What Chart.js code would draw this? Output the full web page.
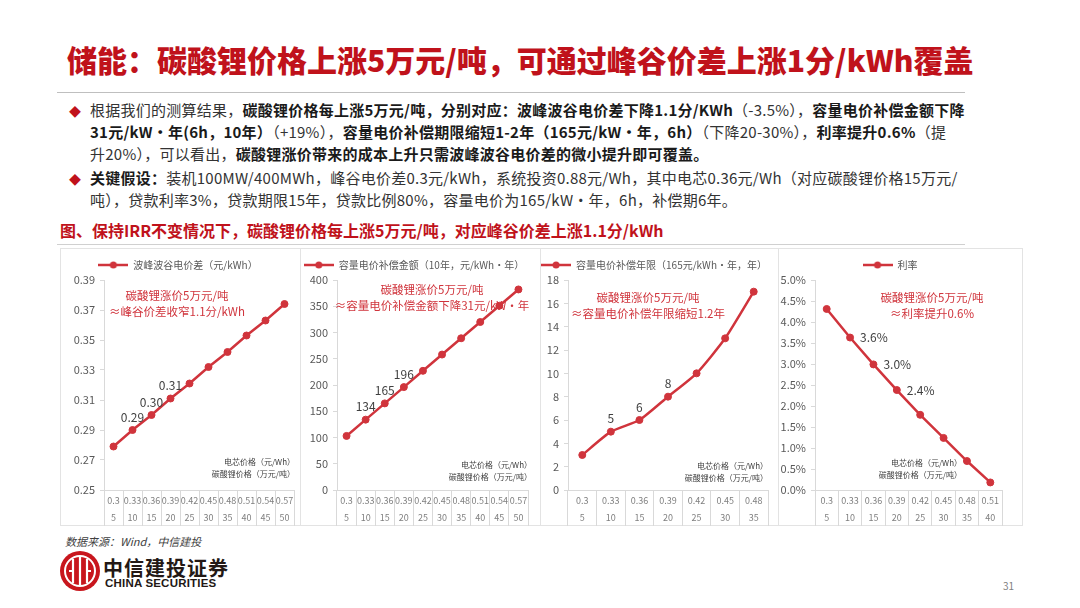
<!DOCTYPE html>
<html>
<head>
<meta charset="utf-8">
<script src="https://cdn.jsdelivr.net/npm/chart.js@4.4.1/dist/chart.umd.min.js"></script>
<style>
  html, body { margin: 0; padding: 0; background: #fff; }
  body { width: 1080px; height: 608px; position: relative; overflow: hidden;
         font-family: "Noto Sans CJK SC", "Noto Sans", sans-serif; color: #333; }
  .abs { position: absolute; white-space: nowrap; }
  .title { left: 67px; top: 37px; font-size: 30px; font-weight: 900; color: #c0121b; letter-spacing: 0; }
  .rule { position: absolute; height: 1px; background: #bfbfbf; }
  .line { left: 90px; font-size: 15px; line-height: 22px; letter-spacing: 0.25px; }
  .line b { font-weight: 700; color: #1a1a1a; }
  .dia { left: 69px; font-size: 12px; color: #c0121b; }
  .cap { left: 60px; top: 218px; font-size: 16px; font-weight: 700; color: #c0121b; }
  .panel { position: absolute; top: 248px; height: 278px; border: 1px solid #e3e3e3; box-sizing: border-box; }
  canvas { position: absolute; }
  .note { position: absolute; font-size: 11.5px; color: #d0343c; text-align: center; transform: translateX(-50%); white-space: nowrap; line-height: 16px; }
  .axt { position: absolute; font-size: 8px; color: #404040; text-align: right; white-space: nowrap; line-height: 12px; }
  .src { left: 65px; top: 533px; font-size: 11px; font-style: italic; color: #404040; }
  .cn { left: 103px; top: 553px; font-size: 20px; font-weight: 700; color: #231815; letter-spacing: 1px; }
  .en { left: 105px; top: 577px; font-size: 11.5px; font-weight: 700; color: #231815; font-family: "Liberation Sans", Arial, sans-serif; letter-spacing: 0.2px; }
  .pg { left: 1003px; top: 578px; font-size: 10px; color: #7f7f7f; }
</style>
</head>
<body>

<div class="abs title">储能：碳酸锂价格上涨5万元/吨，可通过峰谷价差上涨1分/kWh覆盖</div>
<div class="rule" style="left:57px; top:92px; width:908px;"></div>

<div class="abs dia" style="top:103px;">◆</div>
<div class="abs line" style="top:99px;">根据我们的测算结果，<b>碳酸锂价格每上涨5万元/吨，分别对应：波峰波谷电价差下降1.1分/KWh</b>（-3.5%），<b>容量电价补偿金额下降</b></div>
<div class="abs line" style="top:121px;"><b>31元/kW•年(6h，10年）</b>（+19%），<b>容量电价补偿期限缩短1-2年（165元/kW•年，6h）</b>（下降20-30%），<b>利率提升0.6%</b>（提</div>
<div class="abs line" style="top:143px;">升20%），可以看出，<b>碳酸锂涨价带来的成本上升只需波峰波谷电价差的微小提升即可覆盖。</b></div>
<div class="abs dia" style="top:171px;">◆</div>
<div class="abs line" style="top:167px;"><b>关键假设：</b>装机100MW/400MWh，峰谷电价差0.3元/kWh，系统投资0.88元/Wh，其中电芯0.36元/Wh（对应碳酸锂价格15万元/</div>
<div class="abs line" style="top:189px;">吨），贷款利率3%，贷款期限15年，贷款比例80%，容量电价为165/kW·年，6h，补偿期6年。</div>

<div class="abs cap">图、保持IRR不变情况下，碳酸锂价格每上涨5万元/吨，对应峰谷价差上涨1.1分/kWh</div>
<div class="rule" style="left:57px; top:244px; width:908px; background:#d0d0d0;"></div>

<div class="panel" style="left:60px; width:241px;"></div>
<div class="panel" style="left:300px; width:241px;"></div>
<div class="panel" style="left:540px; width:239px;"></div>
<div class="panel" style="left:778px; width:245px;"></div>

<canvas id="c1" width="238" height="276" style="left:62px; top:250px;"></canvas>
<canvas id="c2" width="240" height="276" style="left:300px; top:250px;"></canvas>
<canvas id="c3" width="238" height="276" style="left:540px; top:250px;"></canvas>
<canvas id="c4" width="244" height="276" style="left:778px; top:250px;"></canvas>

<div class="note" style="left:177px; top:287px;">碳酸锂涨价5万元/吨<br>≈峰谷价差收窄1.1分/kWh</div>
<div class="note" style="left:432px; top:281px;">碳酸锂涨价5万元/吨<br>≈容量电价补偿金额下降31元/kW·年</div>
<div class="note" style="left:648px; top:289px;">碳酸锂涨价5万元/吨<br>≈容量电价补偿年限缩短1.2年</div>
<div class="note" style="left:932px; top:289px;">碳酸锂涨价5万元/吨<br>≈利率提升0.6%</div>

<div class="axt" style="right:785px; top:456px;">电芯价格（元/Wh）<br>碳酸锂价格（万元/吨）</div>
<div class="axt" style="right:548px; top:459px;">电芯价格（元/Wh）<br>碳酸锂价格（万元/吨）</div>
<div class="axt" style="right:312px; top:460px;">电芯价格（元/Wh）<br>碳酸锂价格（万元/吨）</div>
<div class="axt" style="right:118px; top:457px;">电芯价格（元/Wh）<br>碳酸锂价格（万元/吨）</div>

<div class="abs src">数据来源：Wind，中信建投</div>
<svg class="abs" style="left:59px; top:550px;" width="42" height="42" viewBox="0 0 42 42">
  <circle cx="21" cy="21" r="20" fill="#c8161d"/>
  <circle cx="21" cy="21" r="15" fill="none" stroke="#fff" stroke-width="2"/>
  <path d="M14 9 V33 M28 9 V33 M21 7 V35" stroke="#fff" stroke-width="2.2" fill="none"/>
  <path d="M10 21 H14 M28 21 H32" stroke="#fff" stroke-width="2" fill="none"/>
</svg>
<div class="abs cn">中信建投证券</div>
<div class="abs en">CHINA SECURITIES</div>
<div class="abs pg">31</div>

<script>
// categories: cell price (yuan/Wh) and lithium carbonate price (10k yuan/t)
const cellPrice10 = ['0.3', '0.33', '0.36', '0.39', '0.42', '0.45', '0.48', '0.51', '0.54', '0.57'];
const lithium10 = ['5', '10', '15', '20', '25', '30', '35', '40', '45', '50'];
const cellPrice7 = ['0.3', '0.33', '0.36', '0.39', '0.42', '0.45', '0.48'];
const lithium7 = ['5', '10', '15', '20', '25', '30', '35'];
const cellPrice8 = ['0.3', '0.33', '0.36', '0.39', '0.42', '0.45', '0.48', '0.51'];
const lithium8 = ['5', '10', '15', '20', '25', '30', '35', '40'];

// series values
const spreadVals = [0.279, 0.290, 0.300, 0.311, 0.321, 0.332, 0.342, 0.353, 0.363, 0.374];
const compVals = [103, 134, 165, 196, 227, 258, 289, 320, 351, 382];
const yearsVals = [3, 5, 6, 8, 10, 13, 17];
const rateVals = [4.31, 3.63, 2.99, 2.38, 1.79, 1.24, 0.69, 0.18];

const RED = '#d0343c';
const FONT = '"Noto Sans CJK SC", "Noto Sans", sans-serif';
Chart.defaults.font.family = FONT;

// legend marker: line with a dot in the middle
function legendMark() {
  const c = document.createElement('canvas');
  c.width = 30; c.height = 10;
  const g = c.getContext('2d');
  g.strokeStyle = RED; g.lineWidth = 2.5;
  g.beginPath(); g.moveTo(0, 5); g.lineTo(30, 5); g.stroke();
  g.fillStyle = RED;
  g.beginPath(); g.arc(15, 5, 3.5, 0, Math.PI * 2); g.fill();
  return c;
}
const mark = legendMark();

// labels printed next to a few points
const valueLabels = {
  id: 'valueLabels',
  afterDatasetsDraw(chart, args, opts) {
    const meta = chart.getDatasetMeta(0);
    const vals = chart.data.datasets[0].data;
    const ctx = chart.ctx;
    ctx.save();
    ctx.font = '12px ' + FONT;
    ctx.fillStyle = '#404040';
    opts.indices.forEach(i => {
      const p = meta.data[i];
      const txt = opts.fmt(vals[i]);
      if (opts.pos === 'right') {
        ctx.textAlign = 'left'; ctx.textBaseline = 'middle';
        ctx.fillText(txt, p.x + 10, p.y);
      } else {
        ctx.textAlign = 'center'; ctx.textBaseline = 'bottom';
        ctx.fillText(txt, p.x, p.y - 7);
      }
    });
    ctx.restore();
  }
};

function makeChart(id, top, bottom, vals, o) {
  const labels = top.map((t, i) => [t, bottom[i]]);
  return new Chart(document.getElementById(id), {
    type: 'line',
    data: {
      labels: labels,
      datasets: [{
        label: o.legend,
        data: vals,
        borderColor: RED,
        backgroundColor: RED,
        borderWidth: 2.5,
        pointRadius: 3.5,
        pointBorderWidth: 1,
        pointHoverRadius: 3.5,
        tension: o.tension || 0
      }]
    },
    options: {
      responsive: false,
      animation: false,
      layout: { padding: { top: 0, right: o.padRight, left: 0, bottom: 0 } },
      plugins: {
        legend: {
          position: 'top',
          labels: {
            usePointStyle: true,
            pointStyle: mark,
            pointStyleWidth: 30,
            boxHeight: 10,
            color: '#595959',
            font: { size: 10 },
            padding: 10
          }
        },
        tooltip: { enabled: false },
        valueLabels: { indices: o.marks, fmt: o.markFmt, pos: o.markPos }
      },
      scales: {
        x: {
          offset: true,
          grid: { offset: true, drawOnChartArea: false, tickLength: 36, color: '#d9d9d9' },
          border: { color: '#d9d9d9' },
          ticks: { autoSkip: false, maxRotation: 0, padding: -34, color: '#7f7f7f',
                   font: { size: 9, lineHeight: 1.9 } },
          afterFit: s => { s.height = 36; }
        },
        y: {
          min: o.min, max: o.max,
          grid: { drawOnChartArea: false, tickLength: 4, color: '#d9d9d9' },
          border: { color: '#d9d9d9' },
          ticks: { stepSize: o.step, padding: 5, color: '#595959', font: { size: 11 },
                   callback: v => o.fmt(v) },
          afterFit: s => { s.width = o.yWidth; }
        }
      }
    },
    plugins: [valueLabels]
  });
}

makeChart('c1', cellPrice10, lithium10, spreadVals, {
  legend: '波峰波谷电价差（元/kWh）', min: 0.25, max: 0.39, step: 0.02,
  fmt: v => v.toFixed(2), yWidth: 42, padRight: 6,
  marks: [1, 2, 3], markFmt: v => v.toFixed(2), markPos: 'top'
});
makeChart('c2', cellPrice10, lithium10, compVals, {
  legend: '容量电价补偿金额（10年，元/kWh·年）', min: 0, max: 400, step: 50,
  fmt: v => String(v), yWidth: 37, padRight: 12,
  marks: [1, 2, 3], markFmt: v => String(v), markPos: 'top'
});
makeChart('c3', cellPrice7, lithium7, yearsVals, {
  legend: '容量电价补偿年限（165元/kWh·年，年）', min: 0, max: 18, step: 2,
  fmt: v => String(v), yWidth: 28, padRight: 10, tension: 0.2,
  marks: [1, 2, 3], markFmt: v => String(v), markPos: 'top'
});
makeChart('c4', cellPrice8, lithium8, rateVals, {
  legend: '利率', min: 0, max: 5, step: 0.5,
  fmt: v => v.toFixed(1) + '%', yWidth: 37, padRight: 20,
  marks: [1, 2, 3], markFmt: v => v.toFixed(1) + '%', markPos: 'right'
});
</script>
</body>
</html>
